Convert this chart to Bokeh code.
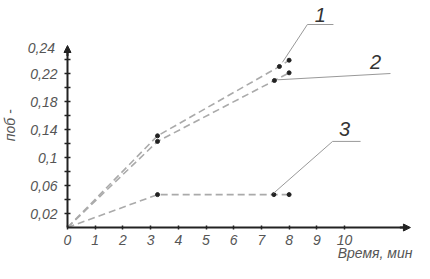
from bokeh.plotting import figure
from bokeh.models import Range1d, FixedTicker, Arrow, NormalHead, Label
from bokeh.embed import file_html
from bokeh.resources import INLINE
import math

# ---- data ----
time1 = [0, 3.25, 7.65, 8.0]
s1 = [0, 0.131, 0.230, 0.239]
time2 = [0, 3.25, 7.47, 8.0]
s2 = [0, 0.123, 0.210, 0.221]
time3 = [0, 3.25, 7.45, 8.0]
s3 = [0, 0.047, 0.047, 0.047]

x_ticks = [0, 1, 2, 3, 4, 5, 6, 7, 8, 9, 10]
y_ticks = [0.02, 0.04, 0.06, 0.08, 0.10, 0.12, 0.14, 0.16, 0.18, 0.20, 0.22, 0.24]
y_labels = {0.02: "0,02", 0.04: "", 0.06: "0,06", 0.08: "", 0.10: "0,1", 0.12: "",
            0.14: "0,14", 0.16: "", 0.18: "0,18", 0.20: "", 0.22: "0,22", 0.24: ""}
top_label = "0,24"

# curve labels with leader lines
curve_names = ["1", "2", "3"]
name_x = [9.13, 11.12, 10.0]
name_y = [0.3036, 0.236, 0.141]
leader1_x = [7.76, 8.66, 9.6]
leader1_y = [0.236, 0.290, 0.290]
leader2_x = [7.58, 11.66]
leader2_y = [0.211, 0.220]
leader3_x = [7.44, 9.57, 10.58]
leader3_y = [0.049, 0.123, 0.123]

FONT = "Liberation Sans"
AX = "#222222"
TXT = "#555555"

p = figure(width=414, height=263, output_backend="svg", toolbar_location=None,
           x_range=Range1d(-2.419, 12.527), y_range=Range1d(-0.0514, 0.3243),
           min_border_left=0, min_border_right=0, min_border_top=0, min_border_bottom=0)
p.outline_line_color = None
p.grid.visible = False
p.background_fill_color = "white"

for ax in (p.xaxis[0], p.yaxis[0]):
    ax.fixed_location = 0
    ax.axis_line_color = AX
    ax.axis_line_width = 2
    ax.major_tick_line_color = AX
    ax.major_tick_line_width = 1.5
    ax.minor_tick_line_color = None
    ax.major_label_text_font = FONT
    ax.major_label_text_font_style = "italic"
    ax.major_label_text_color = TXT
    ax.major_label_text_font_size = "14px"

p.xaxis.ticker = FixedTicker(ticks=x_ticks)
p.xaxis.bounds = (0, 12.2)
p.xaxis.major_tick_in = 2
p.xaxis.major_tick_out = 2
p.xaxis.major_label_standoff = 5

p.yaxis.ticker = FixedTicker(ticks=y_ticks)
p.yaxis.bounds = (0, 0.25)
p.yaxis.major_tick_in = 3
p.yaxis.major_tick_out = 3
p.yaxis.major_label_standoff = 7
p.yaxis.major_label_overrides = y_labels

# axis arrows
p.add_layout(Arrow(end=NormalHead(size=7, fill_color=AX, line_color=AX),
                   x_start=12.0, y_start=0, x_end=12.38, y_end=0,
                   line_color=AX, line_width=2))
p.add_layout(Arrow(end=NormalHead(size=7, fill_color=AX, line_color=AX),
                   x_start=0, y_start=0.245, x_end=0, y_end=0.26,
                   line_color=AX, line_width=2))

# series
dash_col = "#aaaaaa"
for tx, sy in ((time1, s1), (time2, s2), (time3, s3)):
    p.line(tx, sy, line_color=dash_col, line_width=1.6, line_dash="7 4")
    p.scatter(tx[1:], sy[1:], size=4, color=AX)

# leader lines
for lx, ly in ((leader1_x, leader1_y), (leader2_x, leader2_y), (leader3_x, leader3_y)):
    p.line(lx, ly, line_color="#999999", line_width=1)

for t, nx, ny in zip(curve_names, name_x, name_y):
    p.add_layout(Label(x=nx, y=ny, text=t, text_font=FONT, text_font_style="italic",
                       text_font_size="20px", text_color="#333333",
                       text_align="center", text_baseline="middle"))

# axis titles
p.add_layout(Label(x=12.45, y=-0.037, text="Время, мин", text_font=FONT,
                   text_font_style="italic", text_font_size="14px", text_color=TXT,
                   text_align="right", text_baseline="middle"))
p.add_layout(Label(x=-2.06, y=0.146, text="поб -", text_font=FONT, angle=math.pi / 2,
                   text_font_style="italic", text_font_size="14px", text_color=TXT,
                   text_align="center", text_baseline="middle"))
p.add_layout(Label(x=-0.45, y=0.257, text=top_label, text_font=FONT,
                   text_font_style="italic", text_font_size="14px", text_color=TXT,
                   text_align="right", text_baseline="middle"))

open("out.html", "w").write(file_html(p, INLINE))
